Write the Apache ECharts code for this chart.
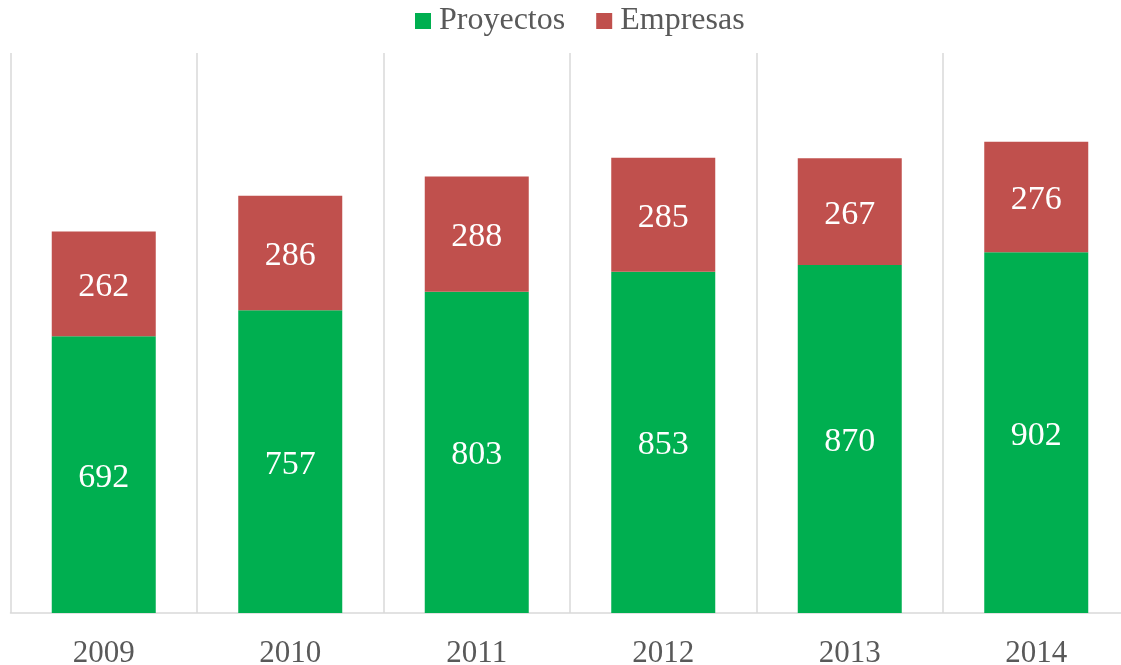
<!DOCTYPE html>
<html>
<head>
<meta charset="utf-8">
<script src="https://cdn.jsdelivr.net/npm/echarts@6/dist/echarts.min.js"></script>
<style>
  html, body { margin: 0; padding: 0; background: #fff; }
  #chart { width: 1121px; height: 665px; }
</style>
</head>
<body>
<div id="chart"></div>
<script>
const years = ["2009", "2010", "2011", "2012", "2013", "2014"];
const proyectos = [692, 757, 803, 853, 870, 902];
const empresas = [262, 286, 288, 285, 267, 276];

const serif = "Liberation Serif";
const chart = echarts.init(document.getElementById("chart"));

const barLabel = { show: true, position: "inside", offset: [0, 3], color: "#fff", fontFamily: serif, fontSize: 34 };

chart.setOption({
  animation: false,
  textStyle: { fontFamily: serif },
  legend: {
    top: 0,
    left: 410,
    itemWidth: 16,
    itemHeight: 16,
    itemGap: 31,
    icon: "rect",
    textStyle: { fontFamily: serif, fontSize: 32, color: "#595959", padding: [0, 0, 0, 3] },
    data: ["Proyectos", "Empresas"]
  },
  grid: { left: 10.5, width: 1119, top: 53, bottom: 52, outerBoundsMode: "none", containLabel: false },
  xAxis: {
    type: "category",
    data: years,
    axisLine: { lineStyle: { color: "#d9d9d9", width: 1.5 } },
    axisTick: { show: false },
    axisLabel: { fontFamily: serif, fontSize: 31, color: "#595959", margin: 25 },
    splitLine: { show: true, lineStyle: { color: "#d9d9d9", width: 1.5 } }
  },
  yAxis: {
    type: "value",
    min: 0,
    max: 1400,
    show: false,
    splitLine: { show: false }
  },
  series: [
    {
      name: "Proyectos",
      type: "bar",
      stack: "total",
      barWidth: 104,
      data: proyectos,
      itemStyle: { color: "#00AF50" },
      label: barLabel
    },
    {
      name: "Empresas",
      type: "bar",
      stack: "total",
      barWidth: 104,
      data: empresas,
      itemStyle: { color: "#C0504D" },
      label: barLabel
    }
  ]
});
</script>
</body>
</html>
